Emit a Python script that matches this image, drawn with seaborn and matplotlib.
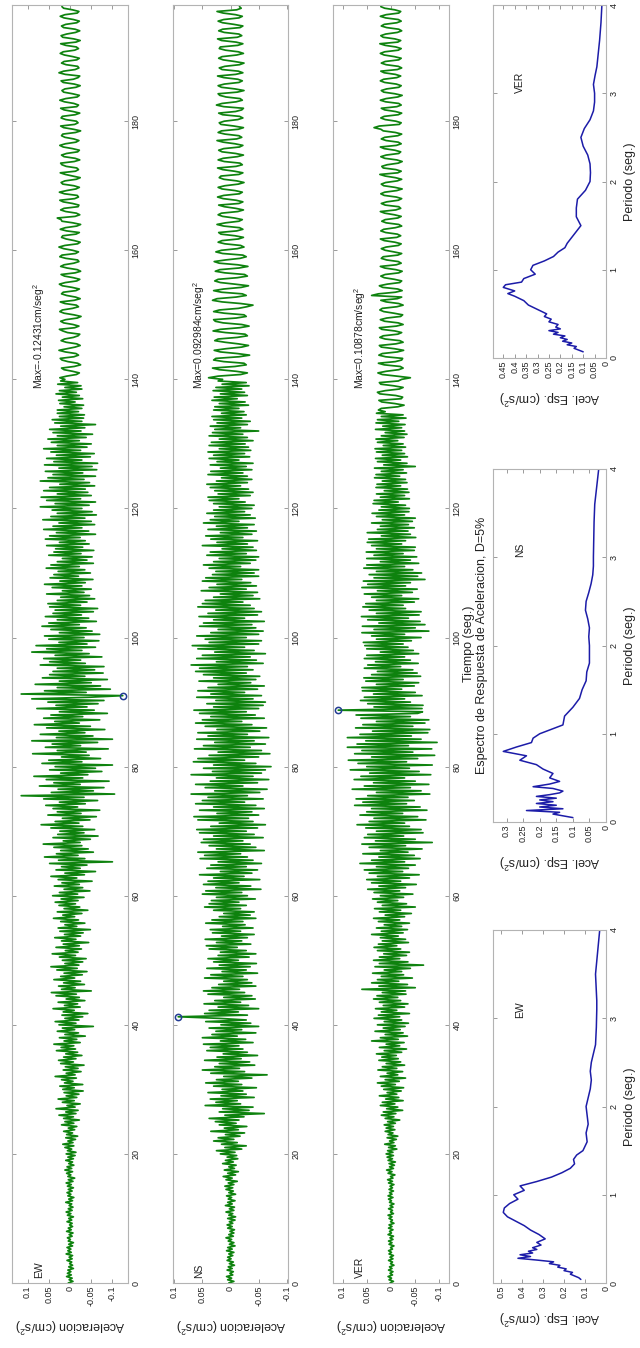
import numpy as np
import matplotlib
matplotlib.use("Agg")
import matplotlib.pyplot as plt
import seaborn as sns

# ---------------- data ----------------
DT = 0.25  # seconds between listed samples
# accelerations in thousandths of cm/s^2, one line = 5 s
ew_acc_milli = [
    4,-7,2,-5,8,-3,6,-2,5,-8,3,-6,1,-4,7,-5,2,-6,9,-3,
    5,-2,7,-6,3,-8,4,-1,6,-5,2,-7,8,-3,4,-6,1,-5,7,-4,
    3,-8,6,-2,9,-5,4,-7,2,-4,10,-6,3,-9,5,-2,7,-5,4,-8,
    6,-3,9,-7,4,-11,5,-2,8,-6,12,-4,7,-9,3,-6,10,-8,5,-12,
    9,-14,6,-4,12,-9,17,-7,5,-13,10,-18,8,-6,15,-11,4,-16,20,-9,
    12,-22,15,-8,26,-14,10,-19,33,-12,7,-24,18,-10,28,-16,9,-21,14,-31,
    17,-10,24,-30,13,-7,20,-15,35,-12,9,-26,16,-19,11,-33,22,-8,27,-14,
    15,-28,10,-18,32,-13,21,-9,38,-24,14,-16,25,-36,12,-20,30,-11,18,-55,
    26,-14,35,-21,12,-30,19,-42,16,-10,40,-24,13,-18,28,-35,9,-22,33,-15,
    44,-50,20,-12,27,-34,15,-25,38,-11,22,-29,14,-40,31,-17,45,-21,12,-30,
    18,-38,25,-13,42,-19,11,-27,33,-22,16,-44,20,-14,36,-25,13,-31,24,-48,
    28,-16,12,-35,22,-20,39,-11,17,-28,30,-42,14,-23,26,-13,35,-19,21,-33,
    41,-18,25,-47,14,-30,37,-22,19,-52,28,-16,45,-34,12,-60,33,-24,20,-40,
    48,-100,27,-35,60,-19,32,-55,22,-43,38,-28,63,-24,16,-48,40,-66,29,-33,
    24,-58,45,-30,68,-21,35,-47,18,-62,52,-26,30,-70,40,-18,57,-36,25,-65,
    62,-33,115,-105,44,-55,28,-80,72,-24,38,-92,56,-30,85,-42,22,-75,48,-60,
    35,-100,66,-28,50,-72,20,-45,88,-38,30,-90,58,-25,42,-65,90,-100,32,-54,
    70,-35,26,-82,55,-48,84,-22,36,-70,62,-30,45,-88,25,-57,78,-40,33,-66,
    52,-80,90,-45,-124.31,115,-38,60,-95,30,-72,82,-50,25,-88,65,-35,48,-78,40,
    -58,30,-80,70,-36,48,-25,62,-75,35,-45,90,-28,55,-60,80,-40,26,-68,50,
    -33,60,-70,25,-52,45,-38,66,-22,50,-62,30,-44,58,-27,40,-55,35,-65,48,
    -25,52,-40,30,-58,22,-46,55,-33,18,-50,42,-28,60,-36,24,-54,47,-20,38,
    -48,28,-35,56,-22,45,-55,30,-40,18,-52,50,-26,38,-56,34,-30,55,-45,25,
    -36,58,-24,48,-60,32,-44,62,-28,40,-58,26,-50,64,-35,45,-62,30,-52,42,
    -28,70,-45,35,-60,55,-25,68,-50,30,-42,62,-36,48,-58,24,-46,70,-33,52,
    -60,40,-30,58,-63,26,-52,60,-65,38,-28,55,-48,32,-57,45,-25,62,-40,30,
    -50,44,-22,52,-38,30,-53,40,-26,48,-35,22,-60,36,-28,42,-32,25,-34,30,
    -20,30,-28,14,-32,24,-12,27,-30,18,-22,33,-15,25,-28,12,-26,29,-18,22,
    12,24,8,-15,-22,-6,14,20,-10,-25,-18,5,19,23,-9,-20,-14,11,26,7,
    -12,-24,-16,9,21,13,-8,-19,-23,6,17,25,-11,-21,-7,15,22,10,-17,-26,
    -9,14,24,18,-6,-20,-15,12,23,-10,-24,-13,8,20,16,-14,-22,-5,18,25,
    11,-16,-23,-8,13,21,-12,-25,-17,7,22,14,-9,-21,-18,10,24,19,-13,-20,
    -6,15,26,12,-18,-24,-10,9,20,17,-14,-22,8,23,11,-16,-25,-7,19,21,
    30,-12,-23,-15,10,22,14,-19,-21,-6,16,24,-11,-20,-17,13,25,8,-14,-22,
    -9,17,21,12,-15,-24,-7,11,23,-13,-20,-16,9,19,22,-10,-23,-12,14,20,
    8,-18,-22,-6,16,24,11,-14,-21,-9,12,20,17,-13,-25,-8,15,22,-11,-19,
    -15,10,21,18,-12,-23,-7,14,22,-16,-20,-9,13,24,10,-17,-22,-6,15,19,
    12,-14,-24,-10,16,21,-8,-19,-23,11,26,15,-12,-21,-18,9,20,14,-16,-22,
    -7,13,23,16,-11,-20,-15,10,22,-14,-24,-9,17,21,8,-13,-23,-12,15,20,
    10,-16,-22,-8,14,23,12,-17,-21,-6,15,19,
]
ns_acc_milli = [
    3,-6,5,-2,7,-4,1,-5,6,-3,4,-7,2,-5,6,-1,5,-4,3,-6,
    7,-3,5,-8,2,-6,4,-2,8,-5,3,-6,1,-7,5,-3,6,-4,2,-8,
    5,-9,3,-4,8,-6,2,-7,9,-3,5,-8,4,-2,7,-9,3,-5,8,-4,
    10,-6,4,-12,8,-3,13,-9,5,-14,11,-7,3,-10,14,-5,9,-13,6,-11,
    18,-8,25,-20,10,-28,16,-12,30,-6,22,-17,9,-25,35,-14,11,-29,20,-10,
    27,-15,38,-24,10,-60,20,-33,14,-40,45,-18,26,-12,36,-42,17,-28,40,-22,
    15,-46,30,-20,44,-14,25,-38,12,-65,35,-25,50,-16,28,-43,20,-34,46,-19,
    24,-48,13,-30,42,-22,36,-15,48,-40,18,-27,50,-12,33,-45,26,-20,38,-50,
    17,-36,44,-28,20,92.984,-30,46,-14,38,-50,22,-32,47,-18,28,-44,12,-38,40,
    -25,48,-16,33,-45,21,-38,12,-30,46,-22,35,-48,15,-28,42,-35,20,-46,30,
    -14,40,-33,22,-45,18,-28,38,-12,43,-36,25,-20,45,-30,16,-42,32,-18,36,
    -40,14,-26,44,-22,33,-45,20,-35,12,-42,30,-18,46,-28,38,-15,34,-44,25,
    -30,50,-20,44,-54,26,-36,48,-15,40,-52,30,-24,55,-38,18,-48,42,-28,35,
    -55,22,-40,54,-30,46,-18,58,-60,25,-45,38,-35,52,-22,48,-58,30,-42,55,
    -28,60,-48,35,-62,20,-40,58,-32,65,-50,24,-38,55,-60,30,-45,62,-25,50,
    -58,40,-30,70,-52,28,-65,45,-22,62,-48,36,-68,25,-40,70,-55,32,-62,48,
    -72,30,-45,66,-25,58,-50,38,-70,22,-55,64,-35,48,-62,28,-42,60,-68,40,
    -30,58,-52,24,-64,45,-38,62,-20,50,-60,35,-44,55,-28,65,-50,30,-58,42,
    -62,26,-40,60,-55,35,-25,58,-48,40,-60,22,-36,56,-45,30,-52,48,-28,62,
    -40,55,-30,70,-58,25,-46,60,-35,50,-62,28,-42,58,-25,68,-50,38,-55,45,
    -28,60,-50,35,-58,22,-45,55,-38,48,-60,30,-25,56,-48,40,-55,26,-42,58,
    -35,50,-22,45,-52,30,-40,18,-48,52,-28,38,-46,24,-36,50,-20,44,-50,32,
    -42,26,-50,38,-18,48,-35,30,-45,20,-50,42,-28,36,-46,15,-40,50,-30,24,
    -48,35,-22,44,-38,18,-46,40,-30,25,-42,48,-15,36,-44,28,-35,42,-25,30,
    -38,20,-42,30,-26,38,-15,40,-35,22,-40,28,-32,36,-18,42,-30,25,-38,16,
    -30,40,-22,35,-38,18,-28,36,-40,24,-15,38,-34,30,-25,40,-36,20,-32,38,
    -26,34,-40,20,-30,38,-22,32,-50,28,-18,36,-30,24,-35,30,-20,33,-28,16,
    -24,30,-15,28,-32,20,-26,33,-12,29,-30,18,-25,31,-20,26,-33,15,-28,22,
    14,39,22,-18,-30,-10,20,32,-8,-28,-24,12,30,26,-15,-34,-12,18,29,8,
    -20,-32,-14,10,28,22,-12,-30,-26,9,31,18,-16,-33,-20,13,27,30,-10,-28,
    -24,11,30,20,-14,-29,-40,-18,15,32,24,-10,-28,-21,16,30,12,-19,-32,-8,
    18,28,22,-12,-30,-25,10,27,19,-15,-31,-13,20,29,9,-17,-28,-22,14,26,
    16,-12,-24,-18,10,22,15,-14,-23,-8,17,21,-11,-22,-16,12,24,9,-15,-21,
    -7,14,22,16,-13,-23,-9,11,21,-15,-22,-10,13,23,12,-16,-21,-8,15,22,
    10,-14,-24,-11,12,20,17,-15,-22,-7,14,23,-10,-21,-17,11,22,13,-12,-23,
    -9,15,21,12,-16,-22,-8,13,24,-11,-20,-15,10,22,16,-14,-23,-6,17,20,
    11,-13,-22,-16,14,21,-9,-20,-23,12,25,15,-10,-21,-17,8,19,22,-12,-24,
    -8,16,22,11,-15,-21,-13,12,23,-9,-22,-14,15,20,10,-16,-24,-7,13,21,
    15,-11,-23,-14,9,20,18,-13,-22,-10,16,23,-12,-20,-15,11,21,14,-17,-22,
    -6,14,22,12,-15,-21,-9,13,24,-11,-19,-16,
]
ver_acc_milli = [
    2,-5,4,-1,6,-3,2,-4,5,-2,3,-6,1,-3,5,-4,2,-5,4,-1,
    5,-3,1,-6,4,-2,5,-4,2,-5,6,-1,3,-4,5,-2,4,-6,1,-3,
    4,-2,6,-5,1,-3,5,-4,2,-6,3,-1,5,-4,6,-2,3,-5,4,-3,
    2,-6,5,-3,7,-4,1,-8,6,-2,9,-5,3,-7,4,-9,6,-3,8,-5,
    10,-4,7,-12,5,-9,13,-6,3,-11,8,-14,6,-4,12,-8,10,-5,14,-9,
    7,-18,12,-6,20,-10,16,-24,9,-14,22,-8,18,-25,11,-16,24,-12,8,-21,
    15,-26,20,-9,28,-17,12,-30,22,-14,8,-24,27,-12,18,-28,10,-20,25,-15,
    19,-11,30,-22,14,-32,24,-18,10,-27,40,-15,22,-34,12,-25,33,-19,16,-29,
    28,-36,14,-22,35,-18,26,-38,20,-12,32,-28,16,-35,24,-20,36,-14,29,-31,
    18,-30,60,-50,25,-34,40,-16,28,-44,20,-26,38,-22,14,-40,33,-67,24,-35,
    36,-18,24,-32,15,-38,28,-20,35,-12,26,-36,18,-30,22,-15,40,-25,20,-34,
    30,-22,14,-38,26,-18,36,-28,12,-42,24,-20,34,-50,18,-32,28,-14,38,-26,
    22,-45,35,-18,48,-30,25,-52,40,-20,50,-38,28,-58,45,-24,55,-36,30,-50,
    64,-28,40,-60,25,-48,58,-35,22,-64,45,-30,60,-85,32,-50,55,-26,48,-66,
    30,-62,52,-38,70,-28,45,-72,35,-55,64,-24,50,-74,40,-60,75,-32,58,-48,
    72,-35,48,-80,30,-62,80,-40,55,-78,36,-50,76,-28,62,-82,44,-58,84,-38,
    50,-85,68,-32,88,-55,40,-90,75,-45,60,-84,90,-36,70,-95,52,-62,90,-42,
    64,-76,38,-80,73,-45,58,-70,30,-78,62,-40,72,-55,-65,108.78,-64,35,-66,48,
    -40,63,-28,55,-64,36,-50,59,-22,60,-48,30,-57,52,-25,56,-61,40,-54,28,
    -45,55,-20,48,-56,32,-40,55,-28,50,-57,22,-46,50,-35,54,-25,57,-42,30,
    -62,40,-28,60,-78,35,-50,59,-70,25,-60,48,-36,61,-58,30,-62,45,-30,58,
    -25,52,-48,30,-57,40,-22,55,-44,28,-54,60,-30,48,-40,57,-70,35,-55,45,
    -63,30,-45,56,-28,50,-57,22,-40,50,-53,35,-25,51,-48,30,-50,40,-22,49,
    -30,46,-51,20,-40,49,-35,28,-48,22,-36,40,-44,18,-50,30,-28,39,-37,25,
    -38,20,-30,37,-15,35,-38,22,-28,30,-37,14,-34,31,-20,29,-33,18,-30,34,
    -18,31,-32,20,-25,34,-50,15,-33,28,-20,32,-34,18,-28,30,-22,33,-30,16,
    -25,28,-14,31,-27,20,-33,12,-28,32,-22,17,-29,31,-16,28,-31,20,-25,30,
    12,26,20,-14,-27,-8,19,25,-21,-24,-10,23,28,12,-17,-25,-6,21,24,-15,
    -22,-40,-12,18,27,10,-16,-25,-19,14,26,-9,-22,-24,11,25,18,-13,-26,-7,
    20,24,-10,-25,-18,12,23,16,-14,-22,-8,19,24,-11,-25,-15,13,22,9,-20,
    -24,-6,15,23,18,-12,-25,-16,10,21,-13,-22,40,26,-9,-23,-14,17,24,8,
    -18,-22,-7,14,21,12,-16,-23,-10,13,22,-11,-21,-15,9,20,16,-14,-22,-6,
    12,20,10,-15,-21,-8,14,22,-12,-20,-13,11,21,15,-9,-22,-16,10,19,12,
    -14,-21,-7,13,22,-10,-20,-16,12,20,9,-15,-22,-11,14,21,13,-12,-23,-8,
    15,20,11,-13,-22,-9,12,23,-14,-21,-10,16,19,8,-15,-23,-12,13,21,10,
    -16,-20,-8,14,22,-11,-21,-15,10,20,13,-14,-22,-9,16,21,35,24,-17,-21,
    -10,12,21,14,-15,-22,-9,13,20,-12,-21,-16,11,22,10,-14,-23,-8,15,20,
    9,-16,-21,-11,13,22,15,-12,-20,-9,14,21,-13,-22,-15,10,20,12,-16,-21,
    -7,14,22,13,-15,-21,-10,12,23,-14,-20,-8,16,21,11,-13,-22,-16,9,20,
    14,-12,-21,-15,11,22,10,-16,-20,-8,13,21,
]

components = ["EW", "NS", "VER"]
max_labels = ["Max=-0.12431cm/seg$^2$", "Max=0.092984cm/seg$^2$",
              "Max=0.10878cm/seg$^2$"]
time_ticks = [0, 20, 40, 60, 80, 100, 120, 140, 160, 180]
acc_ticks = [-0.1, -0.05, 0, 0.05, 0.1]
period_ticks = [0, 1, 2, 3, 4]

# response spectra (period in s, spectral acceleration in cm/s^2)
ew_period = [0.04,0.06,0.08,0.10,0.12,0.14,0.16,0.18,0.20,0.22,0.24,0.26,0.28,
             0.30,0.32,0.34,0.36,0.38,0.40,0.43,0.46,0.50,0.55,0.60,0.65,0.70,
             0.75,0.80,0.85,0.90,0.95,1.00,1.05,1.10,1.15,1.20,1.25,1.30,1.35,
             1.40,1.45,1.50,1.60,1.70,1.80,1.90,2.00,2.10,2.20,2.30,2.40,2.50,
             2.60,2.70,2.80,2.90,3.00,3.10,3.20,3.30,3.40,3.50,3.60,3.70,3.80,
             3.90,4.00]
ew_sa = [0.12,0.13,0.15,0.17,0.16,0.20,0.19,0.23,0.22,0.27,0.25,0.33,0.42,
         0.36,0.41,0.35,0.37,0.33,0.35,0.31,0.33,0.29,0.32,0.36,0.39,0.43,
         0.47,0.49,0.485,0.46,0.42,0.44,0.39,0.41,0.33,0.26,0.21,0.17,0.15,
         0.155,0.14,0.11,0.09,0.095,0.085,0.09,0.095,0.085,0.075,0.07,0.075,0.07,
         0.06,0.05,0.048,0.046,0.045,0.044,0.044,0.046,0.048,0.05,0.046,0.042,0.038,
         0.034,0.03]
ns_period = [0.05,0.07,0.09,0.11,0.13,0.15,0.17,0.19,0.21,0.23,0.25,0.27,0.29,
             0.31,0.33,0.35,0.38,0.40,0.43,0.46,0.50,0.55,0.60,0.65,0.70,0.75,
             0.80,0.85,0.90,0.95,1.00,1.05,1.10,1.20,1.30,1.40,1.50,1.60,1.70,
             1.80,1.90,2.00,2.10,2.20,2.30,2.40,2.50,2.60,2.70,2.80,2.90,3.00,
             3.20,3.40,3.60,3.80,4.00]
ns_sa = [0.10,0.13,0.16,0.14,0.24,0.13,0.20,0.15,0.21,0.16,0.20,0.15,0.21,
         0.17,0.14,0.13,0.16,0.22,0.17,0.14,0.17,0.16,0.19,0.21,0.26,0.24,
         0.31,0.27,0.225,0.22,0.20,0.165,0.13,0.125,0.10,0.08,0.072,0.06,0.058,
         0.05,0.05,0.05,0.052,0.05,0.055,0.062,0.06,0.052,0.045,0.04,0.038,0.038,
         0.037,0.036,0.034,0.028,0.022]
ver_period = [0.07,0.09,0.11,0.13,0.15,0.17,0.19,0.21,0.23,0.25,0.27,0.29,0.31,
              0.33,0.35,0.38,0.41,0.44,0.47,0.50,0.55,0.60,0.65,0.70,0.73,0.76,
              0.80,0.83,0.86,0.90,0.95,1.00,1.05,1.10,1.15,1.20,1.25,1.30,1.40,
              1.50,1.60,1.70,1.80,1.90,2.00,2.10,2.20,2.30,2.40,2.50,2.60,2.70,
              2.80,2.90,3.00,3.10,3.20,3.30,3.40,3.50,3.60,3.70,3.80,3.90,4.00]
ver_sa = [0.10,0.12,0.14,0.13,0.17,0.15,0.19,0.17,0.20,0.18,0.23,0.21,0.25,
          0.20,0.22,0.21,0.25,0.24,0.27,0.26,0.30,0.34,0.36,0.40,0.43,0.40,
          0.45,0.44,0.37,0.36,0.31,0.33,0.32,0.27,0.23,0.21,0.18,0.17,0.14,
          0.11,0.13,0.13,0.125,0.09,0.07,0.068,0.07,0.08,0.10,0.11,0.095,0.07,
          0.055,0.05,0.05,0.055,0.048,0.04,0.036,0.032,0.028,0.025,0.022,0.02,0.018]
spec_ticks = [[0, 0.1, 0.2, 0.3, 0.4, 0.5],
              [0, 0.05, 0.1, 0.15, 0.2, 0.25, 0.3],
              [0, 0.05, 0.1, 0.15, 0.2, 0.25, 0.3, 0.35, 0.4, 0.45]]

# ---------------- style ----------------
sns.set_theme(style="ticks")
plt.rcParams["font.family"] = ["Liberation Sans", "DejaVu Sans"]
plt.rcParams["mathtext.default"] = "regular"

W, H = 640, 1348
fig = plt.figure(figsize=(W / 100, H / 100), dpi=100)
fig.patch.set_facecolor("white")

GREEN = "#0e820e"
BLUE = "#1c1ca8"
MARK = "#233c94"
SPINE = "#b3b3b3"
TXT = "#222222"


def axes_px(x0, x1, y0, y1):
    return fig.add_axes([x0 / W, 1 - y1 / H, (x1 - x0) / W, (y1 - y0) / H])


def style_axes(ax):
    for s in ax.spines.values():
        s.set_color(SPINE)
        s.set_linewidth(0.8)
    ax.set_facecolor("white")
    ax.tick_params(axis="both", which="both", direction="in", length=3,
                   width=0.6, color="#8a8a8a", labelsize=6.5, labelcolor=TXT)
    ax.tick_params(axis="x", bottom=True, top=True, labelbottom=True,
                   labeltop=False, pad=2)
    ax.tick_params(axis="y", left=True, right=True, labelleft=False,
                   labelright=True, pad=2.5)


fmt = lambda v: f"{v:g}"

# ---------------- time histories ----------------
time_px = [(12, 128), (173, 288), (333, 449)]
series = [ew_acc_milli, ns_acc_milli, ver_acc_milli]
for i, (comp, vals) in enumerate(zip(components, series)):
    ax = axes_px(time_px[i][0], time_px[i][1], 5, 1283)
    acc = np.asarray(vals, dtype=float) / 1000.0
    t = np.arange(len(acc)) * DT
    sns.lineplot(x=acc, y=t, orient="y", sort=False, estimator=None,
                 color=GREEN, linewidth=1.25, ax=ax)
    k = int(np.argmax(np.abs(acc)))
    ax.plot(acc[k], t[k], "o", ms=4.5, mfc="none", mec=MARK, mew=1.1)
    lim = 1.1 * abs(acc[k])
    ax.set_xlim(lim, -lim)
    ax.set_ylim(0, 198)
    style_axes(ax)
    ax.set_xticks(acc_ticks, [fmt(v) for v in acc_ticks], rotation=90)
    ax.yaxis.tick_right()
    ax.set_yticks(time_ticks, [str(v) for v in time_ticks], rotation=90, va="center")
    ax.tick_params(axis="y", left=True, right=True)
    ax.set_xlabel("Aceleracion (cm/s$^2$)", rotation=180, fontsize=9,
                  color=TXT, labelpad=7)
    ax.set_ylabel("")
    ax.text(0.54 * lim, 0.8, comp, rotation=90, ha="center", va="bottom",
            fontsize=7.5, color=TXT)
    ax.text(0.54 * lim, 138.5, max_labels[i], rotation=90, ha="center",
            va="bottom", fontsize=7.5, color=TXT)
    if comp == "VER":
        ax.yaxis.set_label_position("right")
        ax.set_ylabel("Tiempo (seg.)", fontsize=9, color=TXT, labelpad=1)

# ---------------- response spectra ----------------
spec_px = {"EW": (930, 1283), "NS": (469, 822), "VER": (5, 358)}
spec_data = [(ew_period, ew_sa), (ns_period, ns_sa), (ver_period, ver_sa)]
for i, comp in enumerate(components):
    y0, y1 = spec_px[comp]
    ax = axes_px(493, 606, y0, y1)
    T, sa = spec_data[i]
    sns.lineplot(x=sa, y=T, orient="y", sort=False, estimator=None,
                 color=BLUE, linewidth=1.1, ax=ax)
    lim = 1.1 * max(sa)
    ax.set_xlim(lim, 0)
    ax.set_ylim(0, 4)
    style_axes(ax)
    ax.set_xticks(spec_ticks[i], [fmt(v) for v in spec_ticks[i]], rotation=90)
    ax.yaxis.tick_right()
    ax.set_yticks(period_ticks, [str(v) for v in period_ticks], rotation=90, va="center")
    ax.tick_params(axis="y", left=True, right=True)
    ax.set_xlabel("Acel. Esp. (cm/s$^2$)", rotation=180, fontsize=9,
                  color=TXT, labelpad=7)
    ax.yaxis.set_label_position("right")
    ax.set_ylabel("Periodo (seg.)", fontsize=9, color=TXT, labelpad=4)
    ax.text(0.76 * lim, 3.0, comp, rotation=90, ha="center", va="bottom",
            fontsize=7.5, color=TXT)

fig.text(482 / W, 1 - 645 / H, "Espectro de Respuesta de Aceleracion, D=5%",
         rotation=90, ha="center", va="center", fontsize=9, color=TXT)

fig.savefig("out.png", dpi=100, facecolor="white")
